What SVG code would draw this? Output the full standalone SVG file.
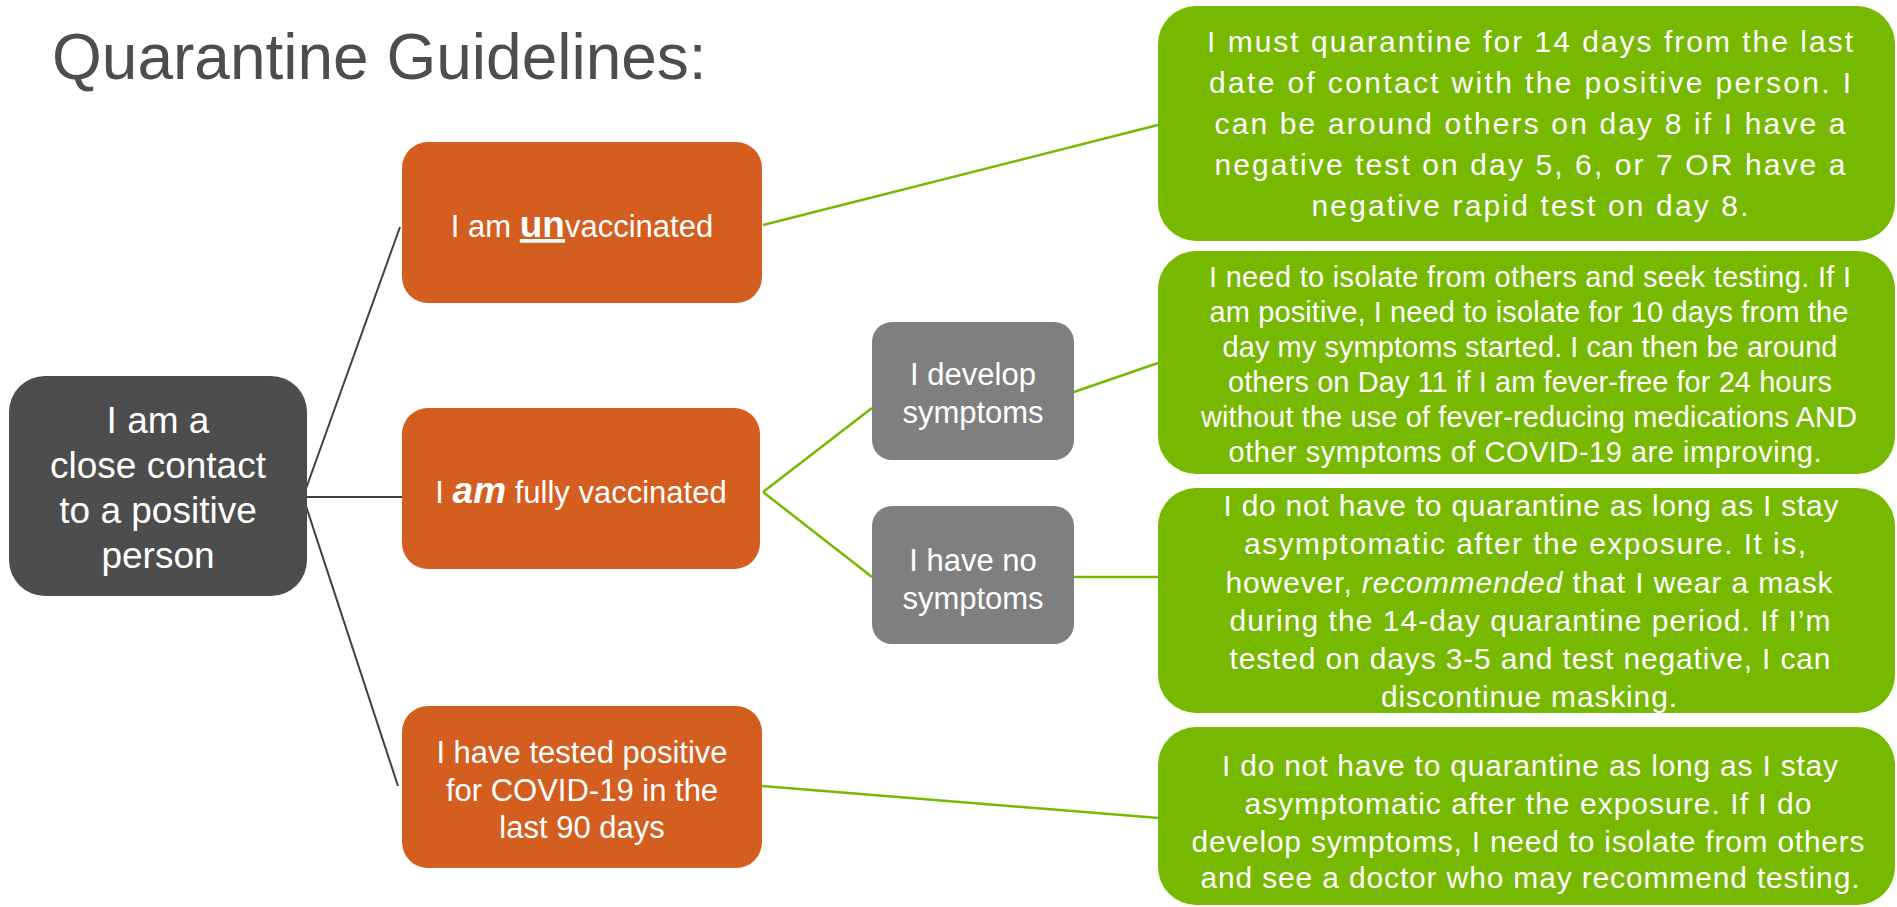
<svg xmlns="http://www.w3.org/2000/svg" width="1897" height="907" viewBox="0 0 1897 907">
<style>
text{font-family:"Liberation Sans",Arial,sans-serif;fill:#ffffff;text-anchor:middle}
.title{fill:#4d4d4d;font-size:64px;text-anchor:start}
.dark{fill:#4d4d4d}
.orange{fill:#d35e1f}
.gray{fill:#7f7f7f}
.green{fill:#77b900}
.t37{font-size:37px}
.t31{font-size:31px}
.t30{font-size:30px}
.t29{font-size:29px}
.cd{stroke:#404040;stroke-width:2;fill:none}
.cg{stroke:#77b900;stroke-width:2.5;fill:none}
</style>
<rect width="1897" height="907" fill="#ffffff"/>
<text class="title" x="52" y="79">Quarantine Guidelines:</text>

<g id="connectors">
<line class="cd" x1="297" y1="497" x2="402" y2="497"/>
<line class="cd" x1="303" y1="497" x2="400" y2="227"/>
<line class="cd" x1="303" y1="497" x2="398" y2="786"/>
<line class="cg" x1="763" y1="225" x2="1158" y2="125"/>
<line class="cg" x1="763" y1="492" x2="872" y2="408"/>
<line class="cg" x1="763" y1="492" x2="872" y2="577"/>
<line class="cg" x1="1074" y1="392" x2="1158" y2="363"/>
<line class="cg" x1="1074" y1="577" x2="1158" y2="577"/>
<line class="cg" x1="762" y1="786" x2="1159" y2="818"/>
</g>

<g id="node-contact">
<rect class="dark" x="9" y="376" width="298" height="220" rx="36"/>
<text class="t37" x="158" y="433">I am a</text>
<text class="t37" x="158" y="478">close contact</text>
<text class="t37" x="158" y="523">to a positive</text>
<text class="t37" x="158" y="568">person</text>
</g>

<g id="node-unvaccinated">
<rect class="orange" x="402" y="142" width="360" height="161" rx="26"/>
<text class="t31" x="582" y="237">I am <tspan font-weight="bold" font-size="37" text-decoration="underline">un</tspan>vaccinated</text>
</g>

<g id="node-vaccinated">
<rect class="orange" x="402" y="408" width="358" height="161" rx="26"/>
<text class="t31" x="581" y="503">I <tspan font-weight="bold" font-style="italic" font-size="37">am</tspan> fully vaccinated</text>
</g>

<g id="node-tested-positive">
<rect class="orange" x="402" y="706" width="360" height="162" rx="26"/>
<text class="t31" x="582" y="763">I have tested positive</text>
<text class="t31" x="582" y="801">for COVID-19 in the</text>
<text class="t31" x="582" y="838">last 90 days</text>
</g>

<g id="node-develop-symptoms">
<rect class="gray" x="872" y="322" width="202" height="138" rx="20"/>
<text class="t31" x="973" y="385">I develop</text>
<text class="t31" x="973" y="423">symptoms</text>
</g>

<g id="node-no-symptoms">
<rect class="gray" x="872" y="506" width="202" height="138" rx="20"/>
<text class="t31" x="973" y="571">I have no</text>
<text class="t31" x="973" y="609">symptoms</text>
</g>

<g id="result-unvaccinated">
<rect class="green" x="1158" y="6" width="737" height="235" rx="38"/>
<text class="t30" x="1530" y="52" textLength="646" lengthAdjust="spacing">I must quarantine  for 14 days from the last</text>
<text class="t30" x="1530" y="93" textLength="642" lengthAdjust="spacing">date of contact with the positive person.  I</text>
<text class="t30" x="1530" y="134" textLength="631" lengthAdjust="spacing">can be around others on day 8 if I have a</text>
<text class="t30" x="1530" y="175" textLength="631" lengthAdjust="spacing">negative test on day 5, 6, or 7 OR have a</text>
<text class="t30" x="1530" y="216" textLength="437" lengthAdjust="spacing">negative rapid test on day 8.</text>
</g>

<g id="result-develop-symptoms">
<rect class="green" x="1158" y="251" width="737" height="223" rx="38"/>
<text class="t29" x="1530" y="287" textLength="642" lengthAdjust="spacing">I need to isolate from others and seek testing.  If I</text>
<text class="t29" x="1529" y="322" textLength="639" lengthAdjust="spacing">am positive, I need to isolate for 10 days from the</text>
<text class="t29" x="1530" y="357" textLength="615" lengthAdjust="spacing">day my symptoms started. I can then be around</text>
<text class="t29" x="1530" y="392" textLength="604" lengthAdjust="spacing">others on Day 11 if I am fever-free for 24 hours</text>
<text class="t29" x="1529" y="427" textLength="656" lengthAdjust="spacing">without the use of fever-reducing medications AND</text>
<text class="t29" x="1525" y="462" textLength="593" lengthAdjust="spacing">other symptoms of COVID-19 are improving.</text>
</g>

<g id="result-no-symptoms">
<rect class="green" x="1158" y="488" width="737" height="225" rx="38"/>
<text class="t30" x="1531" y="516" textLength="615" lengthAdjust="spacing">I do not have to quarantine as long as I stay</text>
<text class="t30" x="1525" y="554" textLength="562" lengthAdjust="spacing">asymptomatic after the exposure.  It is,</text>
<text class="t30" x="1529" y="593" textLength="607" lengthAdjust="spacing">however, <tspan font-style="italic">recommended</tspan> that I wear a mask</text>
<text class="t30" x="1530" y="631" textLength="601" lengthAdjust="spacing">during the 14-day quarantine period.  If I’m</text>
<text class="t30" x="1530" y="669" textLength="601" lengthAdjust="spacing">tested on days 3-5 and test negative, I can</text>
<text class="t30" x="1529" y="707" textLength="296" lengthAdjust="spacing">discontinue masking.</text>
</g>

<g id="result-tested-positive">
<rect class="green" x="1158" y="727" width="737" height="178" rx="38"/>
<text class="t30" x="1530" y="776" textLength="616" lengthAdjust="spacing">I do not have to quarantine as long as I stay</text>
<text class="t30" x="1528" y="814" textLength="567" lengthAdjust="spacing">asymptomatic after the exposure.  If I do</text>
<text class="t30" x="1528" y="852" textLength="673" lengthAdjust="spacing">develop symptoms, I need to isolate from others</text>
<text class="t30" x="1530" y="888" textLength="659" lengthAdjust="spacing">and see a doctor who may recommend testing.</text>
</g>
</svg>
